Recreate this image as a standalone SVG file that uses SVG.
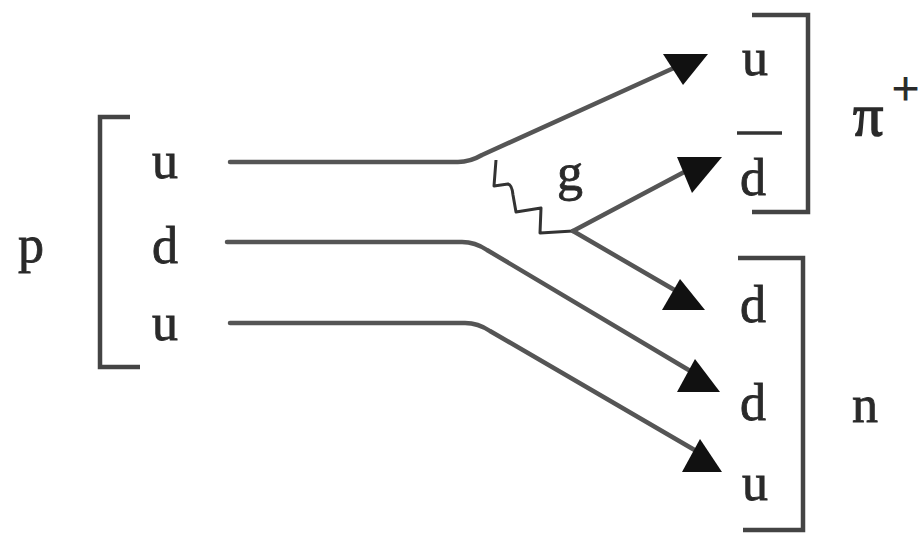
<svg xmlns="http://www.w3.org/2000/svg" width="922" height="535" viewBox="0 0 922 535">
<style>
.t{font-family:"Liberation Serif","Times New Roman",serif;font-size:52px;fill:#2a2a2a;stroke:#2a2a2a;stroke-width:0.8}
.q{fill:none;stroke:#555;stroke-width:4.5;stroke-linecap:round;stroke-linejoin:round}
.br{fill:none;stroke:#444;stroke-width:4.5}
.ah{fill:#111}
.gl{fill:none;stroke:#333;stroke-width:3;stroke-linejoin:round}
</style>
<rect width="922" height="535" fill="#fff"/>
<g id="proton">
<path class="br" d="M130,117 H100 V367 H140"/>
<text class="t" x="18" y="262">p</text>
<text class="t" x="152" y="178">u</text>
<text class="t" x="152" y="263">d</text>
<text class="t" x="152" y="340">u</text>
</g>
<g id="pion">
<path class="br" d="M752,15 H808 V212 H752"/>
<text class="t" x="742" y="75">u</text>
<text class="t" x="740" y="195">d</text>
<line x1="737" y1="133" x2="782" y2="133" stroke="#333" stroke-width="3.5"/>
<text class="t" x="853" y="135" style="font-size:60px;stroke-width:1.5">π</text>
<text class="t" x="892" y="105" style="font-size:48px;stroke-width:1.2">+</text>
</g>
<g id="neutron">
<path class="br" d="M738,258 H803 V530 H743"/>
<text class="t" x="740" y="322">d</text>
<text class="t" x="740" y="420">d</text>
<text class="t" x="742" y="500">u</text>
<text class="t" x="852" y="422">n</text>
</g>
<g id="gluon">
<path class="gl" d="M496,160 L494,186 L508,184 Q512,185 513,195 L516,212 L541,208 L540,233 L573,231"/>
<text class="t" x="557" y="190">g</text>
</g>
<g id="connectors">
<path class="q" d="M230,162 H458 Q470,162 482,155 L676,67"/>
<path class="q" d="M573,231 L688,170"/>
<path class="q" d="M573,231 L678,292"/>
<path class="q" d="M227,242 H462 Q475,242 487,250 L692,372"/>
<path class="q" d="M230,323 H465 Q478,323 490,331 L698,452"/>
<polygon class="ah" points="663,54 708,54 683,85"/>
<polygon class="ah" points="677,157 722,157 692,193"/>
<polygon class="ah" points="680,279 662,310 705,310"/>
<polygon class="ah" points="695,359 677,392 720,392"/>
<polygon class="ah" points="700,439 682,472 722,472"/>
</g>
</svg>
